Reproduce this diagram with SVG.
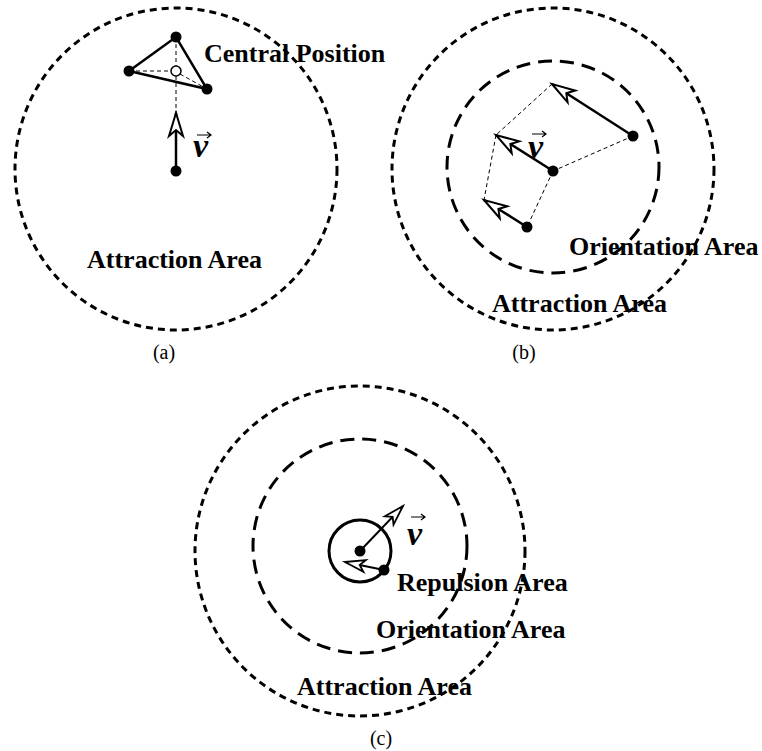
<svg xmlns="http://www.w3.org/2000/svg" width="762" height="751" viewBox="0 0 762 751">
<defs>
<style>
.lbl{font-family:"Liberation Serif","Times New Roman",serif;font-weight:bold;font-size:26px;fill:#000}
.cap{font-family:"Liberation Serif","Times New Roman",serif;font-size:20px;fill:#000}
.vv{font-family:"Liberation Serif","Times New Roman",serif;font-weight:bold;font-style:italic;font-size:34px;fill:#000}
.outer{fill:none;stroke:#000;stroke-width:3;stroke-dasharray:7 5}
.inner{fill:none;stroke:#000;stroke-width:3;stroke-dasharray:14 8}
.thin{fill:none;stroke:#000;stroke-width:1;stroke-dasharray:4 3}
.arr{fill:none;stroke:#000;stroke-width:2.5;marker-end:url(#oa)}
.arrs{fill:none;stroke:#000;stroke-width:2;marker-end:url(#ob)}
.edge{fill:none;stroke:#000;stroke-width:2.5}
.acc{fill:none;stroke:#000;stroke-width:1.2}
.dot{fill:#000}
</style>
<marker id="oa" markerUnits="userSpaceOnUse" orient="auto" refX="23" refY="7" markerWidth="28" markerHeight="18" overflow="visible">
<path d="M23,7 L0,0 L6,7 L0,14 Z" fill="#fff" stroke="#000" stroke-width="2"/>
</marker>
<marker id="ob" markerUnits="userSpaceOnUse" orient="auto" refX="20" refY="6" markerWidth="24" markerHeight="16" overflow="visible">
<path d="M20,6 L0,0 L5,6 L0,12 Z" fill="#fff" stroke="#000" stroke-width="1.8"/>
</marker>
</defs>

<g id="panel-a">
<g id="a-attraction">
<circle class="outer" cx="176" cy="169" r="161"/>
<text class="lbl" x="87" y="268">Attraction Area</text>
</g>
<g id="a-central">
<text class="lbl" x="204" y="62">Central Position</text>
</g>
<g id="a-connectors">
<line class="thin" x1="129" y1="71" x2="171" y2="71"/>
<line class="thin" x1="180" y1="74" x2="207" y2="89"/>
<line class="thin" x1="176" y1="37" x2="176" y2="66"/>
<line class="thin" x1="176" y1="76" x2="176" y2="113"/>
<polyline class="edge" points="129,71 176,37 207,89 129,71"/>
<line class="arr" x1="176" y1="171" x2="176" y2="113"/>
</g>
<g id="a-nodes">
<circle class="dot" cx="176" cy="37" r="5.5"/>
<circle class="dot" cx="129" cy="71" r="5.5"/>
<circle class="dot" cx="207" cy="89" r="5.5"/>
<circle cx="176" cy="71" r="5" fill="#fff" stroke="#000" stroke-width="1.5"/>
<circle class="dot" cx="176" cy="171" r="5.5"/>
</g>
<g id="a-v">
<text class="vv" x="193" y="157">v</text>
<path class="acc" d="M197,135 H211 M207,132 L211,135 L207,138"/>
</g>
<text class="cap" x="164" y="359" text-anchor="middle">(a)</text>
</g>

<g id="panel-b">
<g id="b-attraction">
<circle class="outer" cx="553" cy="169" r="161"/>
<text class="lbl" x="492" y="312">Attraction Area</text>
</g>
<g id="b-orientation">
<circle class="inner" cx="553" cy="167" r="106"/>
<text class="lbl" x="569" y="255">Orientation Area</text>
</g>
<g id="b-connectors">
<line class="thin" x1="552" y1="84" x2="496" y2="135"/>
<line class="thin" x1="496" y1="135" x2="484" y2="200"/>
<line class="thin" x1="633" y1="136" x2="553" y2="171"/>
<line class="thin" x1="553" y1="171" x2="527" y2="227"/>
<line class="arr" x1="633" y1="136" x2="552" y2="84"/>
<line class="arr" x1="553" y1="171" x2="496" y2="135"/>
<line class="arr" x1="527" y1="227" x2="484" y2="200"/>
</g>
<g id="b-nodes">
<circle class="dot" cx="633" cy="136" r="5.5"/>
<circle class="dot" cx="553" cy="171" r="5.5"/>
<circle class="dot" cx="527" cy="227" r="5.5"/>
</g>
<g id="b-v">
<text class="vv" x="528" y="158">v</text>
<path class="acc" d="M532,134 H546 M542,131 L546,134 L542,137"/>
</g>
<text class="cap" x="524" y="359" text-anchor="middle">(b)</text>
</g>

<g id="panel-c">
<g id="c-attraction">
<circle class="outer" cx="360" cy="551" r="165"/>
<text class="lbl" x="297" y="695">Attraction Area</text>
</g>
<g id="c-orientation">
<circle class="inner" cx="360" cy="546" r="107"/>
<text class="lbl" x="376" y="638">Orientation Area</text>
</g>
<g id="c-repulsion">
<circle cx="360" cy="551" r="31" fill="none" stroke="#000" stroke-width="3"/>
<text class="lbl" x="397" y="591">Repulsion Area</text>
</g>
<g id="c-connectors">
<line class="arrs" x1="360" y1="551" x2="403" y2="506"/>
<line class="arrs" x1="384" y1="570" x2="345" y2="562"/>
</g>
<g id="c-nodes">
<circle class="dot" cx="360" cy="551" r="5.5"/>
<circle class="dot" cx="384" cy="570" r="5.5"/>
</g>
<g id="c-v">
<text class="vv" x="407" y="545">v</text>
<path class="acc" d="M411,517 H425 M421,514 L425,517 L421,520"/>
</g>
<text class="cap" x="381" y="745" text-anchor="middle">(c)</text>
</g>
</svg>
